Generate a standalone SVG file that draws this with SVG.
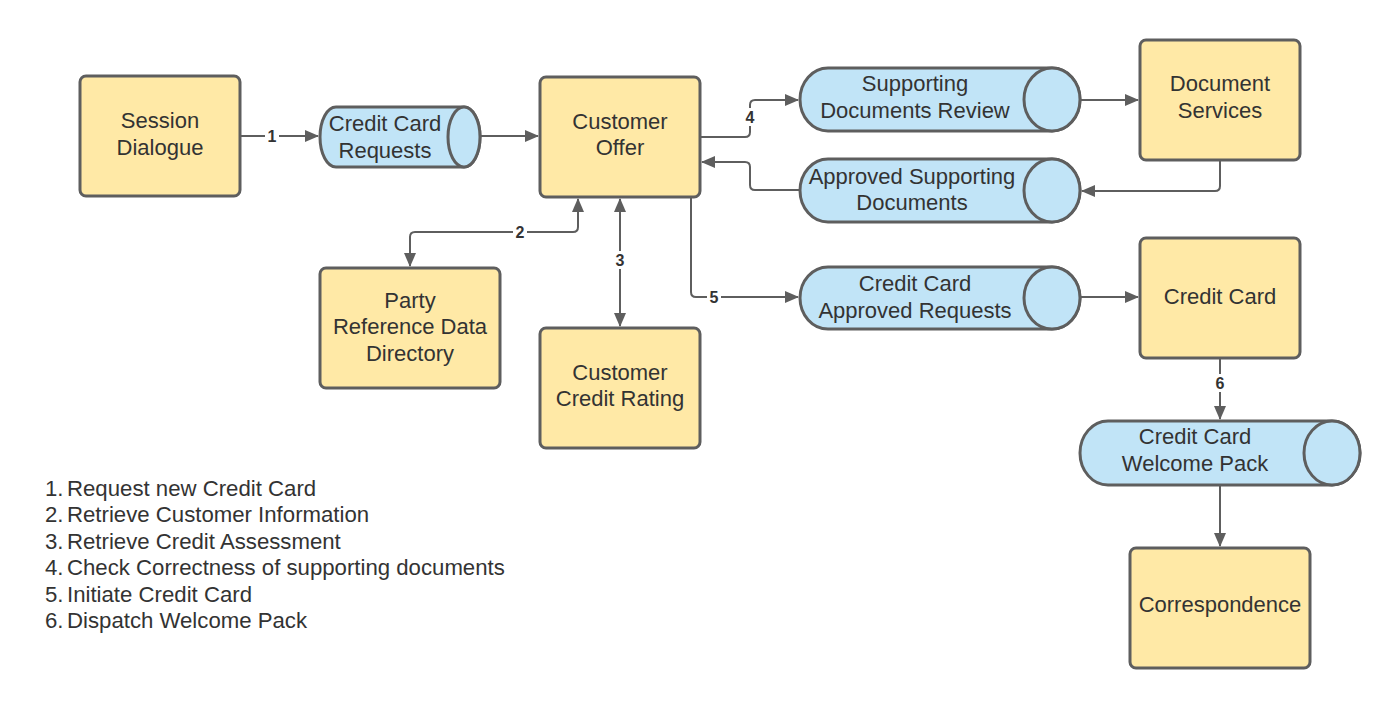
<svg xmlns="http://www.w3.org/2000/svg" width="1400" height="708" viewBox="0 0 1400 708">
<defs>
<marker id="ah" viewBox="0 0 14 12" refX="13" refY="6" markerWidth="14" markerHeight="12" markerUnits="userSpaceOnUse" orient="auto-start-reverse">
<path d="M0,0 L14,6 L0,12 Z" fill="#5e5e5e"/>
</marker>
<style>
.box{fill:#ffe9a6;stroke:#5e5e5e;stroke-width:3}
.cyl{fill:#c1e4f7;stroke:#5e5e5e;stroke-width:3}
.t{font-family:"Liberation Sans",Arial,sans-serif;font-size:22px;fill:#333333;text-anchor:middle}
.c{fill:none;stroke:#5e5e5e;stroke-width:2}
.lb{font-family:"Liberation Sans",Arial,sans-serif;font-size:16px;font-weight:bold;fill:#333333;text-anchor:middle}
.lg{font-family:"Liberation Sans",Arial,sans-serif;font-size:22.2px;fill:#333333}
</style>
</defs>
<rect width="1400" height="708" fill="#ffffff"/>

<g id="connectors">
<path class="c" d="M240,136 H318" marker-end="url(#ah)"/>
<path class="c" d="M480,136 H538" marker-end="url(#ah)"/>
<path class="c" d="M700,137 H745 Q750,137 750,132 V105 Q750,100 755,100 H798" marker-end="url(#ah)"/>
<path class="c" d="M800,190 H755 Q750,190 750,185 V167 Q750,162 745,162 H702" marker-end="url(#ah)"/>
<path class="c" d="M1080,100 H1138" marker-end="url(#ah)"/>
<path class="c" d="M1220,160 V186 Q1220,191 1215,191 H1082" marker-end="url(#ah)"/>
<path class="c" d="M578,199 V227 Q578,232 573,232 H415 Q410,232 410,237 V266" marker-start="url(#ah)" marker-end="url(#ah)"/>
<path class="c" d="M620,199 V326" marker-start="url(#ah)" marker-end="url(#ah)"/>
<path class="c" d="M691,197 V292 Q691,297 696,297 H798" marker-end="url(#ah)"/>
<path class="c" d="M1080,297 H1138" marker-end="url(#ah)"/>
<path class="c" d="M1220,358 V419" marker-end="url(#ah)"/>
<path class="c" d="M1220,485 V546" marker-end="url(#ah)"/>
<rect x="265" y="127" width="14" height="18" fill="#ffffff"/>
<text class="lb" x="272" y="142">1</text>
<rect x="513" y="223" width="14" height="18" fill="#ffffff"/>
<text class="lb" x="520" y="238">2</text>
<rect x="613" y="251" width="14" height="18" fill="#ffffff"/>
<text class="lb" x="620" y="266">3</text>
<rect x="743" y="108" width="14" height="18" fill="#ffffff"/>
<text class="lb" x="750" y="123">4</text>
<rect x="707" y="288" width="14" height="18" fill="#ffffff"/>
<text class="lb" x="714" y="303">5</text>
<rect x="1213" y="374" width="14" height="18" fill="#ffffff"/>
<text class="lb" x="1220" y="389">6</text>
</g>

<g id="session-dialogue">
<rect class="box" x="80" y="76" width="160" height="120" rx="6"/>
<text class="t" x="160" y="128">Session</text>
<text class="t" x="160" y="155">Dialogue</text>
</g>

<g id="credit-card-requests">
<path class="cyl" d="M336,107 H464 A16,30 0 0 1 464,167 H336 A16,30 0 0 1 336,107 Z"/>
<ellipse class="cyl" cx="464" cy="137" rx="16" ry="30"/>
<text class="t" x="385" y="131">Credit Card</text>
<text class="t" x="385" y="158">Requests</text>
</g>

<g id="customer-offer">
<rect class="box" x="540" y="77" width="160" height="120" rx="6"/>
<text class="t" x="620" y="129">Customer</text>
<text class="t" x="620" y="155">Offer</text>
</g>

<g id="supporting-documents-review">
<path class="cyl" d="M828,68 H1052 A28,31.5 0 0 1 1052,131 H828 A28,31.5 0 0 1 828,68 Z"/>
<ellipse class="cyl" cx="1052" cy="99.5" rx="28" ry="31.5"/>
<text class="t" x="915" y="91">Supporting</text>
<text class="t" x="915" y="118">Documents Review</text>
</g>

<g id="approved-supporting-documents">
<path class="cyl" d="M828,159 H1052 A28,31.5 0 0 1 1052,222 H828 A28,31.5 0 0 1 828,159 Z"/>
<ellipse class="cyl" cx="1052" cy="190.5" rx="28" ry="31.5"/>
<text class="t" x="912" y="184">Approved Supporting</text>
<text class="t" x="912" y="210">Documents</text>
</g>

<g id="document-services">
<rect class="box" x="1140" y="40" width="160" height="120" rx="6"/>
<text class="t" x="1220" y="91">Document</text>
<text class="t" x="1220" y="118">Services</text>
</g>

<g id="party-reference-data-directory">
<rect class="box" x="320" y="268" width="180" height="120" rx="6"/>
<text class="t" x="410" y="308">Party</text>
<text class="t" x="410" y="334">Reference Data</text>
<text class="t" x="410" y="361">Directory</text>
</g>

<g id="customer-credit-rating">
<rect class="box" x="540" y="328" width="160" height="120" rx="6"/>
<text class="t" x="620" y="380">Customer</text>
<text class="t" x="620" y="406">Credit Rating</text>
</g>

<g id="credit-card-approved-requests">
<path class="cyl" d="M828,267 H1052 A28,31 0 0 1 1052,329 H828 A28,31 0 0 1 828,267 Z"/>
<ellipse class="cyl" cx="1052" cy="298" rx="28" ry="31"/>
<text class="t" x="915" y="291">Credit Card</text>
<text class="t" x="915" y="318">Approved Requests</text>
</g>

<g id="credit-card">
<rect class="box" x="1140" y="238" width="160" height="120" rx="6"/>
<text class="t" x="1220" y="304">Credit Card</text>
</g>

<g id="credit-card-welcome-pack">
<path class="cyl" d="M1108,421 H1332 A28,32 0 0 1 1332,485 H1108 A28,32 0 0 1 1108,421 Z"/>
<ellipse class="cyl" cx="1332" cy="453" rx="28" ry="32"/>
<text class="t" x="1195" y="444">Credit Card</text>
<text class="t" x="1195" y="471">Welcome Pack</text>
</g>

<g id="correspondence">
<rect class="box" x="1130" y="548" width="180" height="120" rx="6"/>
<text class="t" x="1220" y="612">Correspondence</text>
</g>

<g id="legend">
<text class="lg" x="45" y="496">1.</text><text class="lg" x="67" y="496">Request new Credit Card</text>
<text class="lg" x="45" y="522">2.</text><text class="lg" x="67" y="522">Retrieve Customer Information</text>
<text class="lg" x="45" y="549">3.</text><text class="lg" x="67" y="549">Retrieve Credit Assessment</text>
<text class="lg" x="45" y="575">4.</text><text class="lg" x="67" y="575">Check Correctness of supporting documents</text>
<text class="lg" x="45" y="602">5.</text><text class="lg" x="67" y="602">Initiate Credit Card</text>
<text class="lg" x="45" y="628">6.</text><text class="lg" x="67" y="628">Dispatch Welcome Pack</text>
</g>
</svg>
